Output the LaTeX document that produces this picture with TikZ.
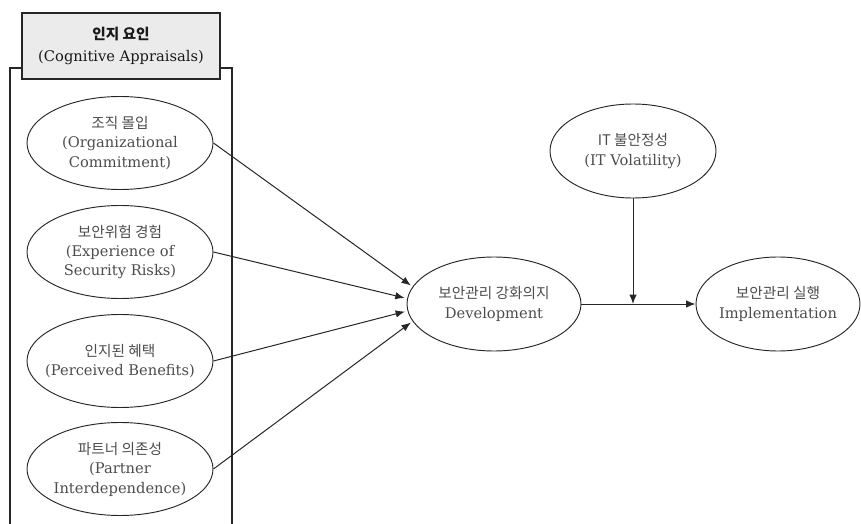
\documentclass[tikz,border=0pt]{standalone}
\usepackage{fontspec}
\setmainfont{DejaVu Serif}
\newfontfamily\kr{Noto Sans CJK KR}
\usetikzlibrary{shapes.geometric,arrows.meta}
\tikzset{
  factor/.style={draw=black!85, line width=0.7pt, ellipse, inner xsep=-30pt, inner ysep=-12pt,
    align=center, text=black!70, font=\fontsize{11pt}{14.6pt}\selectfont},
  leftfactor/.style={factor, minimum width=139.5pt, minimum height=69.75pt},
  conn/.style={draw=black!85, line width=0.75pt, -{Latex[length=7pt,width=5.5pt]}},
  boxline/.style={draw=black!85, line width=0.9pt}
}
\begin{document}
\begin{tikzpicture}[x=0.75pt,y=-0.75pt]
\useasboundingbox (0,0) rectangle (861,524);
% outer group frame (open at bottom)
\draw[boxline] (10,524) -- (10,68) -- (232,68) -- (232,524);
% header box
\node[boxline, fill=black!8, minimum width=148.5pt, minimum height=49.5pt, inner sep=0pt,
  align=center, font=\fontsize{11pt}{16.5pt}\selectfont, text=black!90]
  (head) at (121,46) {{\kr\bfseries 인지 요인}\\(Cognitive Appraisals)};
% left factors
\node[leftfactor] (oc) at (120,143) {{\kr 조직 몰입}\\(Organizational\\Commitment)};
\node[leftfactor] (es) at (120,252) {{\kr 보안위험 경험}\\(Experience of\\Security Risks)};
\node[leftfactor] (pb) at (120,361) {{\kr 인지된 혜택}\\(Perceived Benefits)};
\node[leftfactor] (pi) at (120,469) {{\kr 파트너 의존성}\\(Partner\\Interdependence)};
% right factors
\node[factor, minimum width=130.5pt, minimum height=70.5pt] (dev) at (494,304)
  {{\kr 보안관리 강화의지}\\Development};
\node[factor, minimum width=124.5pt, minimum height=70.5pt] (itv) at (633,151)
  {{\kr IT 불안정성}\\(IT Volatility)};
\node[factor, minimum width=123pt, minimum height=70.5pt] (imp) at (778,304)
  {{\kr 보안관리 실행}\\Implementation};
% connectors
\draw[conn] (oc.east) -- ([shift={(-2pt,0pt)}]dev.167);
\draw[conn] (es.east) -- ([shift={(-2pt,0pt)}]dev.176);
\draw[conn] (pb.east) -- ([shift={(-2pt,0pt)}]dev.185);
\draw[conn] (pi.east) -- ([shift={(-2pt,0pt)}]dev.193);
\draw[conn] (dev.east) -- (imp.west);
\coordinate (mod) at (633,304);
\draw[conn] (itv.south) -- (mod);
\end{tikzpicture}
\end{document}
